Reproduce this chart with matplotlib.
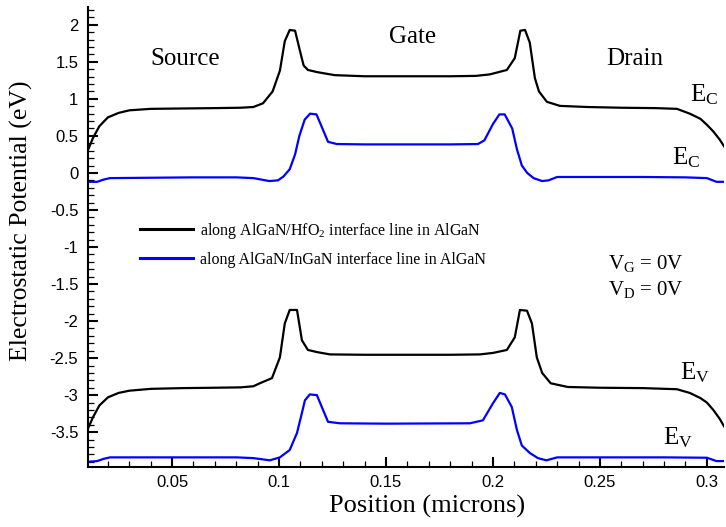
import matplotlib
matplotlib.use('Agg')
import matplotlib.pyplot as plt
from matplotlib.lines import Line2D
from matplotlib.ticker import MultipleLocator

plt.rcParams['font.family'] = ['Liberation Serif', 'DejaVu Serif']
plt.rcParams['mathtext.fontset'] = 'custom'
plt.rcParams['mathtext.rm'] = 'Liberation Serif'
plt.rcParams['mathtext.it'] = 'Liberation Serif:italic'

# conduction / valence band along AlGaN/HfO2 interface (black)
x_ec_hfo2 = [0.0107, 0.013, 0.016, 0.020, 0.025, 0.030, 0.040, 0.055, 0.070, 0.082,
             0.088, 0.0925, 0.097, 0.1004, 0.1027, 0.105, 0.1075, 0.1095, 0.1115, 0.1135,
             0.118, 0.126, 0.140, 0.160, 0.180, 0.192, 0.1985, 0.2065, 0.2102, 0.2128,
             0.2150, 0.2172, 0.2196, 0.2215, 0.2252, 0.2313, 0.244, 0.260, 0.276, 0.286,
             0.292, 0.297, 0.300, 0.303, 0.306, 0.308]
ec_hfo2 = [0.31, 0.47, 0.63, 0.75, 0.81, 0.845, 0.865, 0.87, 0.875, 0.88,
           0.89, 0.94, 1.10, 1.38, 1.78, 1.93, 1.92, 1.68, 1.45, 1.39,
           1.36, 1.32, 1.305, 1.305, 1.305, 1.31, 1.33, 1.39, 1.55, 1.92,
           1.93, 1.76, 1.28, 1.10, 0.96, 0.905, 0.89, 0.88, 0.875, 0.865,
           0.80, 0.73, 0.65, 0.56, 0.45, 0.36]

x_ev_hfo2 = [0.0107, 0.013, 0.016, 0.020, 0.025, 0.030, 0.040, 0.055, 0.070, 0.082,
             0.088, 0.091, 0.0967, 0.1004, 0.1027, 0.105, 0.1084, 0.1107, 0.1135, 0.118,
             0.1238, 0.140, 0.160, 0.180, 0.1939, 0.2000, 0.2065, 0.2102, 0.2126, 0.2159,
             0.2182, 0.2205, 0.2230, 0.2270, 0.235, 0.250, 0.270, 0.286, 0.292, 0.297,
             0.300, 0.303, 0.306, 0.308]
ev_hfo2 = [-3.45, -3.30, -3.14, -3.03, -2.97, -2.94, -2.915, -2.905, -2.90, -2.895,
           -2.88, -2.84, -2.77, -2.49, -2.03, -1.85, -1.85, -2.26, -2.39, -2.42,
           -2.45, -2.455, -2.455, -2.455, -2.45, -2.43, -2.39, -2.22, -1.85, -1.86,
           -2.03, -2.49, -2.70, -2.84, -2.89, -2.90, -2.905, -2.92, -2.97, -3.04,
           -3.10, -3.20, -3.32, -3.42]

# along AlGaN/InGaN interface (blue)
x_ec_ingan = [0.0107, 0.015, 0.018, 0.021, 0.040, 0.060, 0.080, 0.088, 0.0955, 0.0995,
              0.1020, 0.1050, 0.1075, 0.1095, 0.1120, 0.1145, 0.1175, 0.1200, 0.1229, 0.1270,
              0.140, 0.160, 0.180, 0.1930, 0.1960, 0.2000, 0.2030, 0.2055, 0.2090, 0.2112,
              0.2135, 0.2160, 0.2190, 0.2230, 0.2260, 0.2300, 0.250, 0.270, 0.290, 0.300,
              0.3045, 0.308]
ec_ingan = [-0.12, -0.12, -0.09, -0.07, -0.065, -0.06, -0.06, -0.07, -0.11, -0.10,
            -0.05, 0.05, 0.25, 0.50, 0.72, 0.80, 0.79, 0.62, 0.42, 0.39,
            0.385, 0.385, 0.385, 0.39, 0.44, 0.66, 0.79, 0.79, 0.60, 0.32,
            0.10, 0.0, -0.07, -0.11, -0.10, -0.055, -0.055, -0.055, -0.06, -0.07,
            -0.12, -0.12]

x_ev_ingan = [0.0107, 0.015, 0.018, 0.021, 0.040, 0.060, 0.080, 0.088, 0.0957, 0.1004,
              0.1050, 0.1084, 0.1107, 0.1121, 0.1144, 0.1177, 0.1200, 0.1229, 0.1285, 0.150,
              0.1892, 0.1953, 0.2000, 0.2032, 0.2056, 0.2088, 0.2112, 0.2135, 0.2172, 0.2210,
              0.2250, 0.2300, 0.250, 0.280, 0.300, 0.3045, 0.308]
ev_ingan = [-3.90, -3.89, -3.86, -3.84, -3.84, -3.84, -3.84, -3.85, -3.88, -3.84,
            -3.74, -3.51, -3.24, -3.07, -2.99, -3.00, -3.16, -3.36, -3.38, -3.385,
            -3.38, -3.34, -3.11, -2.97, -2.99, -3.16, -3.47, -3.68, -3.78, -3.85,
            -3.88, -3.84, -3.84, -3.84, -3.845, -3.89, -3.89]

legend_labels = ['along AlGaN/HfO$_2$ interface line in AlGaN',
                 'along AlGaN/InGaN interface line in AlGaN']

fig = plt.figure(figsize=(7.26, 5.27), dpi=100)
ax = fig.add_axes([88 / 726, 1 - 467 / 527, 636 / 726, 460 / 527])

ax.plot(x_ec_hfo2, ec_hfo2, color='black', lw=1.6)
ax.plot(x_ev_hfo2, ev_hfo2, color='black', lw=1.6)
ax.plot(x_ec_ingan, ec_ingan, color='#0000ff', lw=1.6)
ax.plot(x_ev_ingan, ev_ingan, color='#0000ff', lw=1.6)

ax.set_xlim(0.0107, 0.308)
ax.set_ylim(-3.97, 2.24)
ax.xaxis.set_major_locator(MultipleLocator(0.05))
ax.xaxis.set_minor_locator(MultipleLocator(0.01))
ax.yaxis.set_major_locator(MultipleLocator(0.5))
ax.yaxis.set_minor_locator(MultipleLocator(0.1))
ax.xaxis.set_major_formatter(plt.FuncFormatter(lambda v, p: f'{v:g}'))
ax.yaxis.set_major_formatter(plt.FuncFormatter(lambda v, p: f'{v:g}'))

for s in ['top', 'right']:
    ax.spines[s].set_visible(False)
for s in ['left', 'bottom']:
    ax.spines[s].set_linewidth(1.5)
ax.tick_params(which='major', direction='in', length=7, width=1.5)
ax.tick_params(which='minor', direction='in', length=4, width=0.9)
ax.tick_params(axis='x', which='major', pad=6)
ax.tick_params(axis='y', which='major', pad=7)
for lab in ax.get_xticklabels() + ax.get_yticklabels():
    lab.set_fontfamily('Liberation Sans')
    lab.set_fontsize(12)

ax.set_xlabel('Position (microns)', fontsize=19)
ax.set_ylabel('Electrostatic Potential (eV)', fontsize=18.5)
ax.xaxis.label.set_verticalalignment('center')
ax.yaxis.label.set_verticalalignment('center')
ax.xaxis.set_label_coords(0.533, -0.085)
ax.yaxis.set_label_coords(-0.104, 0.535)

# region labels
ax.text(0.0560, 1.54, 'Source', fontsize=18, ha='center', va='center')
ax.text(0.1626, 1.84, 'Gate', fontsize=18, ha='center', va='center')
ax.text(0.2663, 1.54, 'Drain', fontsize=18, ha='center', va='center')

ax.text(0.2920, 1.05, r'E$_\mathrm{C}$', fontsize=18, va='center')
ax.text(0.2836, 0.20, r'E$_\mathrm{C}$', fontsize=18, va='center')
ax.text(0.2873, -2.70, r'E$_\mathrm{V}$', fontsize=18, va='center')
ax.text(0.2794, -3.58, r'E$_\mathrm{V}$', fontsize=18, va='center')

ax.text(0.2537, -1.22, r'V$_\mathrm{G}$ = 0V', fontsize=15, va='center')
ax.text(0.2537, -1.58, r'V$_\mathrm{D}$ = 0V', fontsize=15, va='center')

handles = [Line2D([], [], color='black', lw=2.2), Line2D([], [], color='#0000ff', lw=2.2)]
ax.legend(handles, legend_labels, loc='upper left', bbox_to_anchor=(0.0818, 0.535),
          frameon=False, fontsize=11.5, handlelength=3.3, handletextpad=0.45,
          labelspacing=0.7, borderpad=0, borderaxespad=0)

fig.savefig('out.png', dpi=100)
